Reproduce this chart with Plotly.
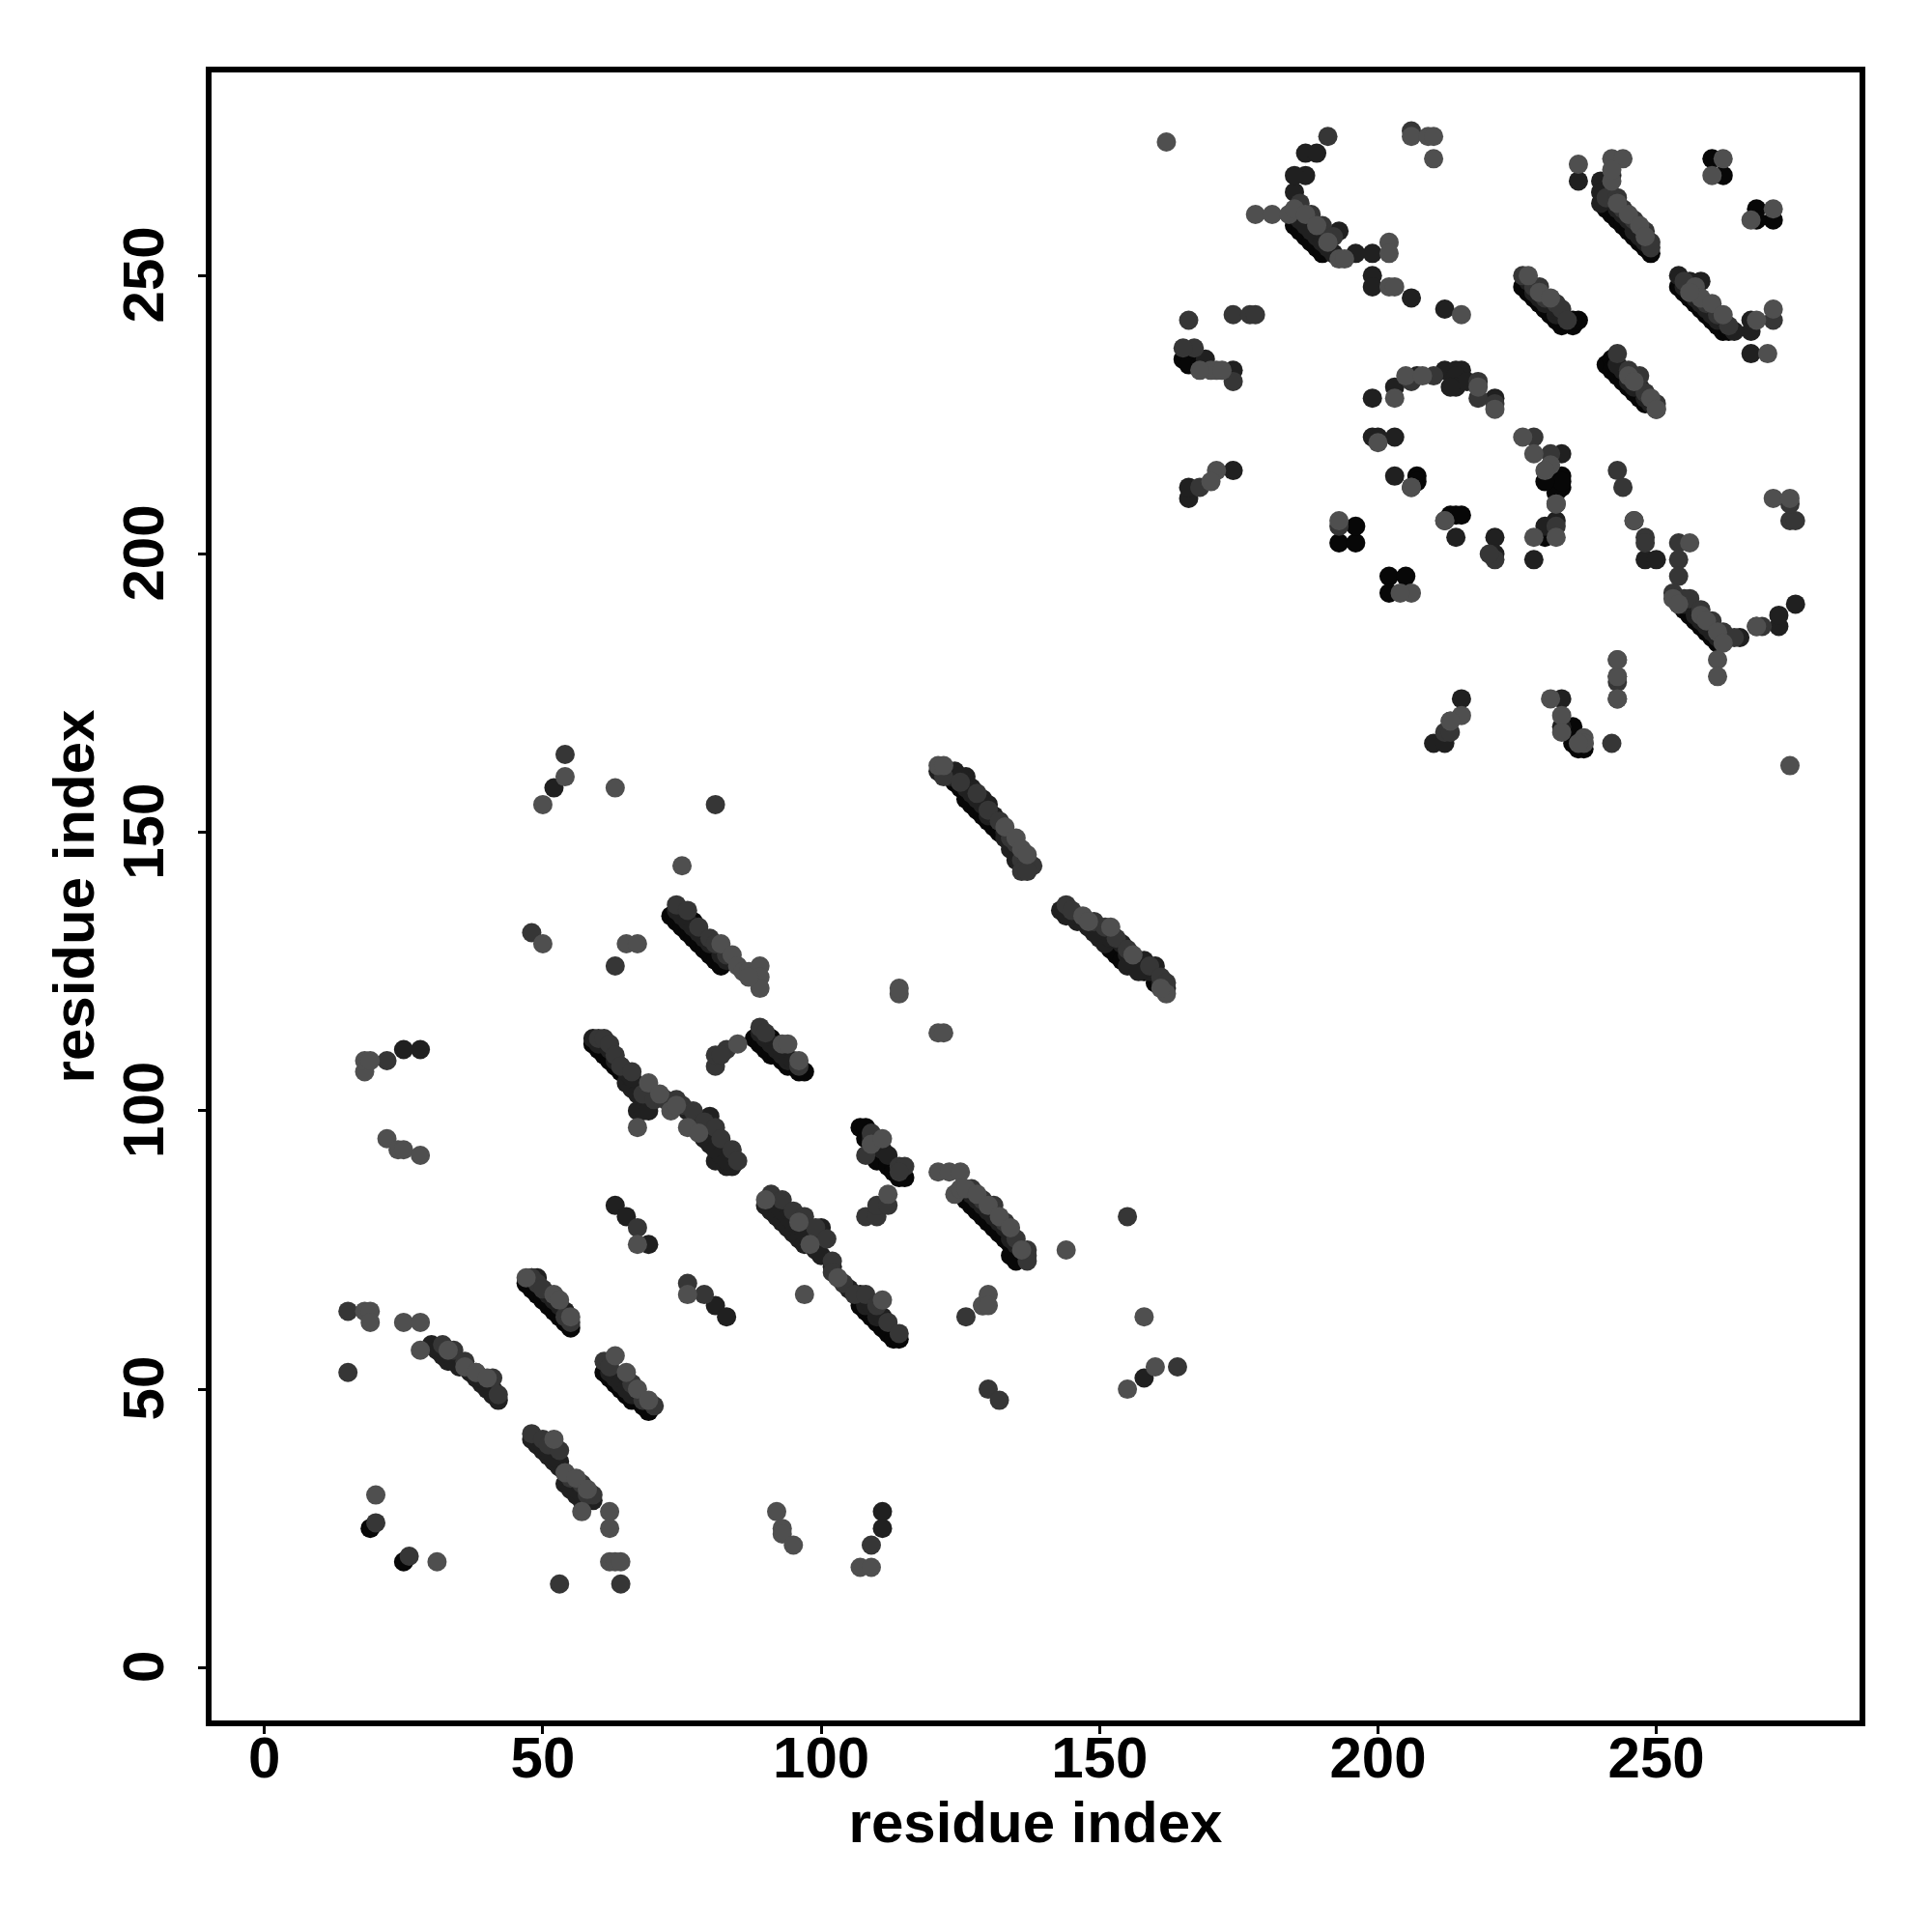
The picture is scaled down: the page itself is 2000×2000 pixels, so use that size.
import plotly.graph_objects as go

black_points = [
 (47,69),(48,68),(49,67),(50,66),(51,65),(52,64),(53,63),(54,62),(55,61),
 (61,53),(62,52),(63,51),(64,50),(65,49),(66,48),(67,48),(68,47),(69,46),
 (59,112),(60,111),(61,110),(62,109),(63,108),(64,107),
 (73,135),(74,134),(75,133),(76,132),(77,131),(78,130),(79,129),(80,128),(81,127),(82,126),
 (75,136),(77,134),
 (88,113),(89,112),(90,111),(91,110),(92,110),(93,109),(94,108),(95,108),(96,107),(97,107),(91,113),(92,112),
 (107,97),(108,97),(108,95),(109,94),(110,93),(110,91),(111,91),(112,91),(112,90),(113,90),(113,89),(114,88),(115,88),
 (126,84),(127,83),(128,82),(129,81),(130,80),(131,79),(132,78),(133,77),(134,76),(135,75),(136,74),(134,74),(135,73),
 (107,65),(108,64),(109,63),(110,62),(111,61),(112,60),(113,59),(114,59),
 (124,159),(125,158),(126,156),(127,155),(128,154),(129,153),(130,152),(131,151),(132,150),
 (152,129),(153,128),(154,127),(156,126),(158,125),(160,123),
 (25,19),(19,25),
 (185,259),(186,258),(187,257),(188,256),(189,255),(190,254),
 (165,235),(166,234),(168,234),
 (226,248),(227,247),(228,246),(229,245),(230,244),(231,243),(232,242),(233,241),(235,241),(236,242),(235,242),
 (241,262),(242,261),(243,260),(244,259),(245,258),(246,257),(247,256),(248,255),(249,254),
 (254,248),(255,247),(256,246),(257,245),(258,244),(259,243),(260,242),(261,241),(262,240),(263,240),
 (241,234),(242,235),(242,233),(243,232),(244,231),(245,230),(246,229),(247,228),(248,227),
 (254,191),(255,190),(256,189),(257,188),(258,187),(259,186),(260,185),(261,184),
 (260,271),(262,268),(268,262),(271,260),(268,260),
 (193,202),(196,202),(196,205),(202,196),(205,196),(202,193),
 (214,207),(213,207),(215,207),(207,214),(207,213),
 (232,214),(233,214),(232,212),(233,212),(232,211),(233,213),(230,213),(230,203),
 (235,169),(235,166),(236,165),(237,165),(237,166),
]
dark_points = [
 (30,58),(31,57),(32,56),(33,55),(35,54),(37,53),(39,51),(40,50),(41,49),(42,48),
 (59,113),(65,105),(66,104),(67,103),(67,100),(68,100),(69,101),(69,100),
 (76,100),(77,99),(78,98),(79,97),(80,96),(81,95),(82,94),(83,93),(84,92),(81,91),(83,90),(84,90),(80,99),
 (63,83),(65,81),(69,76),(81,65),(83,63),
 (25,111),(28,111),(52,158),(158,52),
 (48,41),(49,40),(50,39),(51,38),(52,37),(53,36),(54,33),(55,32),(56,31),(57,30),(59,30),
 (90,83),(91,82),(92,81),(93,80),(94,79),(95,78),(96,77),(97,76),(99,75),(100,74),(102,72),(100,79),(98,77),
 (121,161),(123,160),(124,161),(126,160),(127,158),(129,156),(130,155),
 (143,136),(144,135),(146,134),(148,133),(150,131),(151,130),(155,128),(158,127),(160,126),(162,122),
 (111,28),(111,25),
 (185,265),(187,272),(189,272),(187,268),(185,268),(193,258),(190,258),
 (196,254),(199,254),(199,250),(199,248),(203,230),(199,228),(206,246),(212,244),
 (212,233),(214,233),(215,233),(214,232),(214,230),(216,231),(213,230),
 (207,232),(221,228),(199,221),(200,221),(203,221),(232,206),(230,205),(228,199),(221,203),(221,200),(214,203),
 (203,214),(166,210),(166,212),(174,215),(169,235),(174,233),
 (215,174),(233,174),(233,169),(210,166),(212,166),
 (236,267),(240,267),(240,265),(240,263),
 (242,268),(267,240),(267,242),(267,236),(265,185),(268,187),(272,187),(272,189),(275,191),
 (248,199),(250,199),(246,206),
 (254,250),(256,249),(258,249),
 (233,218),(264,240),
 (48,70),(49,70),(51,67),(52,66),(53,65),(54,64),
 (74,136),(75,135),(76,134),(77,133),(78,132),(79,131),(80,130),(82,128),(83,127),
 (125,160),(126,158),(127,157),(128,156),(129,155),(130,153),(131,153),(132,152),(133,150),(134,148),(133,149),(134,147),(135,145),
 (146,135),(149,132),(152,131),(154,130),(156,127),(157,127),(159,125),(161,123),(155,126),(157,125),
 (60,112),(62,111),(63,109),(64,108),(65,107),(66,106),
 (77,97),(78,97),(79,95),(80,94),(81,93),(82,92),(83,91),
 (92,83),(93,82),(94,81),(95,80),(97,78),(98,78),(105,68),(107,67),(108,65),(109,65),(110,63),(111,63),
 (243,262),(244,261),(245,260),(246,258),(247,257),(248,256),
 (227,249),(228,247),(229,246),(230,245),(231,245),(232,243),(233,243),
 (255,248),(256,247),(257,246),(258,245),(259,244),(260,243),(261,242),
 (243,234),(244,233),(245,231),(246,230),(247,230),(248,228),(249,227),
 (255,191),(256,191),(257,189),(258,188),(259,187),(260,186),(261,185),
 (186,260),(187,259),(188,258),(189,257),(190,256),(191,255),(192,254),
 (127,85),(128,84),(129,83),(130,82),(131,81),(132,80),(133,79),(134,77),(135,76),
 (32,57),(34,55),(36,54),(38,52),(39,52),(41,50),
 (50,40),(51,39),(52,38),(53,37),(54,35),(55,34),(56,32),(57,31),
 (62,53),(63,52),(64,51),(65,50),(66,49),(68,48),
 (89,114),(90,113),(91,112),(92,111),(93,110),(94,109),(95,109),
 (109,95),(110,94),(111,93),(112,92),
]
mid_points = [
 (15,64),(15,53),(22,109),(20,26),(26,20),(53,15),(64,15),(109,22),(164,54),(54,164),
 (48,132),(63,126),(81,155),(155,81),(67,79),(79,67),(76,69),(83,111),(81,108),(81,110),(82,110),
 (108,81),(110,81),(110,83),(112,83),(126,63),(129,65),(130,50),(132,48),
 (32,58),(34,57),(36,55),(38,53),(41,52),(42,49),
 (48,42),(50,41),(51,40),(53,39),(55,34),(57,33),(58,31),(59,31),
 (48,70),(49,69),(50,68),(54,63),(55,62),
 (61,55),(62,54),(66,51),(68,48),(70,47),
 (60,113),(61,113),(62,112),(63,110),(64,108),(66,107),(68,103),(70,102),(72,102),(74,102),
 (75,101),(77,100),(79,98),(81,97),(82,95),(84,93),(85,91),
 (74,137),(76,136),(78,133),(80,131),(81,130),(83,128),
 (89,115),(90,114),(96,108),
 (91,85),(93,84),(95,82),(97,81),(99,79),(101,77),(102,73),(102,71),(104,69),(106,67),(108,67),(110,65),(112,62),(114,60),
 (122,160),(125,159),(128,157),(130,154),(132,152),(134,149),(135,148),(136,145),(137,145),(138,144),(136,143),(137,143),
 (144,137),(145,136),(149,134),(151,133),(153,131),(155,129),(159,126),(161,124),(162,123),
 (108,92),(109,96),(114,90),(115,90),(114,89),
 (127,86),(129,84),(131,83),(133,80),(135,77),(137,75),(137,74),(137,73),
 (191,275),(206,276),(186,263),(188,261),(190,259),(192,257),
 (167,237),(165,237),(174,231),(166,242),(174,243),(177,243),(178,243),
 (206,231),(206,212),(218,231),(218,228),(221,227),(210,232),(228,221),(231,218),
 (232,209),(232,205),(212,206),(168,212),(193,205),(243,215),(244,212),(248,203),(248,202),
 (254,202),(254,199),(254,196),(253,193),
 (212,168),(213,168),(213,170),
 (243,177),(243,178),(242,166),(243,174),(243,181),
 (226,250),(228,248),(229,248),(230,246),(232,245),(233,244),(234,242),
 (241,264),(243,264),(244,262),(246,260),(248,258),(249,256),(249,255),
 (255,249),(257,247),(259,245),(261,243),(263,241),
 (243,236),(245,233),(247,232),(248,229),(250,227),(250,226),
 (255,192),(256,192),(258,190),(260,188),(262,186),(264,185),
 (269,187),(271,242),(274,206),(275,206),(274,209),(221,199),(220,200),
]
light_points = [
 (18,64),(19,64),(19,62),(25,62),(28,62),(28,57),(20,31),(31,19),
 (62,19),(63,19),(64,19),(62,28),(62,25),(57,28),(92,28),(93,25),(93,24),(95,22),
 (107,18),(109,18),(155,50),(160,54),(158,63),(144,75),(129,65),(130,67),(130,65),
 (22,95),(24,93),(25,93),(28,92),(18,107),(18,109),(19,109),
 (67,76),(76,67),(97,67),(67,97),(50,130),(65,130),(67,130),(50,155),(54,160),(63,158),(75,144),
 (114,121),(114,122),(121,114),(122,114),(85,112),(112,85),(121,89),(123,89),(125,89),
 (47,70),(52,67),(53,66),(55,63),
 (33,57),(36,54),(38,53),(40,52),
 (52,41),(54,35),(56,34),(58,32),
 (63,56),(65,53),(67,50),(69,48),
 (69,105),(73,100),(74,101),(76,97),(78,96),(71,103),
 (82,130),(84,128),(85,126),(86,125),(87,125),(88,124),(89,126),(89,124),(89,122),(87,124),
 (93,112),(94,112),(96,109),
 (90,84),(96,80),(98,76),(103,70),(111,66),
 (121,162),(122,162),(133,151),(135,149),(136,147),(137,146),
 (147,135),(148,134),(152,133),(156,128),(162,121),(161,122),
 (109,94),(111,95),
 (124,85),(125,86),(126,86),(128,85),(130,83),(132,81),(134,79),(136,75),
 (162,274),(206,275),(209,275),(210,275),(210,271),(178,261),(181,261),(184,261),(185,262),(187,261),(189,259),(191,256),(193,253),(194,253),(202,256),(202,254),
 (202,248),(203,248),(215,243),(170,233),(171,233),(168,233),(172,233),
 (203,228),(205,232),(208,232),(218,230),(221,226),(200,220),(226,221),(228,218),(231,216),(230,215),(232,209),(232,203),(228,203),
 (206,212),(171,215),(170,213),(193,206),(206,193),(204,193),(212,206),
 (215,171),(213,170),(231,174),(233,171),(233,168),(237,167),(237,166),(236,166),
 (236,270),(242,271),(244,271),(242,267),(242,269),(262,271),(260,268),(271,262),(267,260),(270,236),(271,244),(268,242),
 (243,263),(245,261),(247,259),(248,257),
 (227,250),(229,247),(231,246),
 (257,248),(258,246),(260,245),(262,243),(256,247),
 (245,232),(246,231),(249,228),(250,226),
 (256,202),(253,192),(254,191),(258,189),(259,188),(261,186),(262,184),(261,181),(261,178),(268,187),
 (271,210),(274,210),(274,162),(243,178),(243,181),(243,174),(246,206),
]
x_ticks = [0, 50, 100, 150, 200, 250]
y_ticks = [0, 50, 100, 150, 200, 250]
x_title = "residue index"
y_title = "residue index"

series = [("#070707", black_points), ("#202020", dark_points), ("#363636", mid_points), ("#4f4f4f", light_points)]
fig = go.Figure()
for colour, pts in series:
    fig.add_trace(go.Scatter(x=[p[0] for p in pts], y=[p[1] for p in pts], mode="markers",
                             marker=dict(color=colour, size=20, line=dict(width=0)), showlegend=False))
font = dict(family="Liberation Sans", size=60, color="black", weight="bold")
axis = dict(showgrid=False, zeroline=False, showline=True, linecolor="black", linewidth=6, mirror=True,
            ticks="outside", ticklen=8, tickwidth=3, tickcolor="black", tickfont=font)
fig.update_xaxes(range=[-9.5, 286.5], tickvals=x_ticks, ticklabelstandoff=-27, **axis,
                 title=dict(text=x_title, standoff=9, font=font))
fig.update_yaxes(range=[-9.5, 286.5], tickvals=y_ticks, tickangle=-90, ticklabelstandoff=12, ticklabelshift=8, **axis,
                 title=dict(text=y_title, standoff=0, font=font))
fig.update_layout(width=2000, height=2000, margin=dict(l=211, r=83, t=67, b=227),
                  plot_bgcolor="white", paper_bgcolor="white")
fig.write_html("out.html")
